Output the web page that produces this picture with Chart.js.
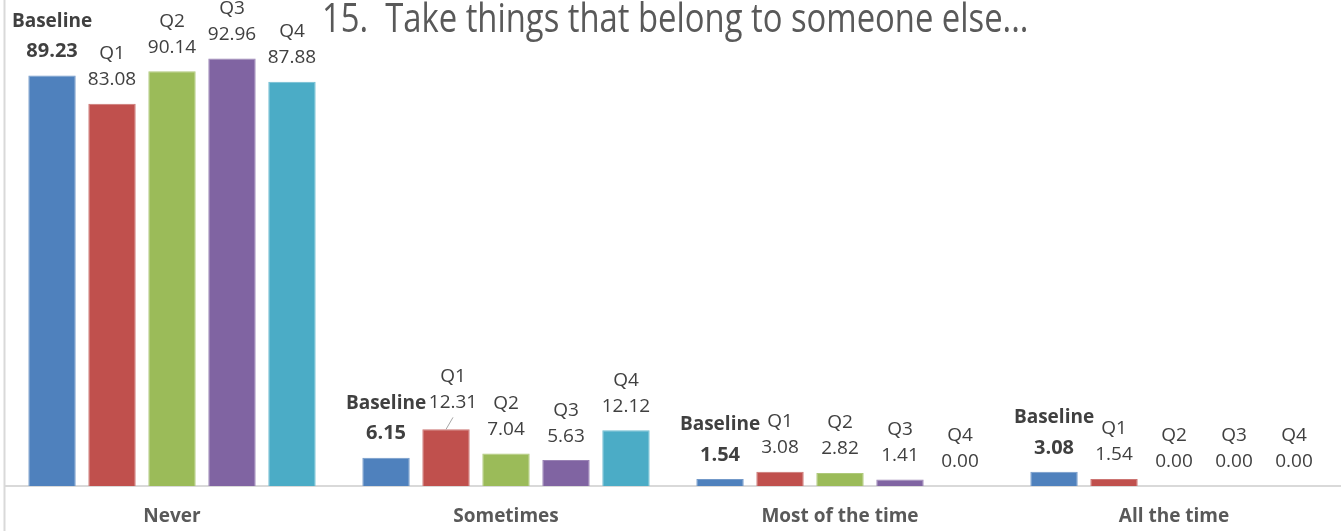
<!DOCTYPE html>
<html>
<head>
<meta charset="utf-8">
<script src="https://cdn.jsdelivr.net/npm/chart.js@4/dist/chart.umd.min.js"></script>
<style>
  html, body { margin: 0; padding: 0; background: #ffffff; }
  #wrap { width: 1341px; height: 531px; position: relative; }
</style>
</head>
<body>
<div id="wrap"><canvas id="chart" width="1341" height="531"></canvas></div>
<script>
// Survey answers for item 15, percentage of respondents per answer and wave
const chartTitle = '15.  Take things that belong to someone else...';
const categories = ['Never', 'Sometimes', 'Most of the time', 'All the time'];
const seriesNames = ['Baseline', 'Q1', 'Q2', 'Q3', 'Q4'];
const baselineValues = [89.23, 6.15, 1.54, 3.08];
const q1Values = [83.08, 12.31, 3.08, 1.54];
const q2Values = [90.14, 7.04, 2.82, 0.00];
const q3Values = [92.96, 5.63, 1.41, 0.00];
const q4Values = [87.88, 12.12, 0.00, 0.00];

const seriesValues = [baselineValues, q1Values, q2Values, q3Values, q4Values];
const seriesColors = ['#4F81BD', '#C0504D', '#9BBB59', '#8064A2', '#4BACC6'];
const edgeColors = ['#7399C9', '#CC7573', '#AFC97A', '#9A83B5', '#6FBDD2'];

const FONT = "'Open Sans', 'Noto Sans', sans-serif";
const LINE = '#D9D9D9';

// labels nudged off their bar, joined back to it by a short leader line
const callouts = [{ series: 1, category: 1, dx: 7, dy: -3 }];

const datasets = seriesNames.map((name, i) => ({
  label: name,
  data: seriesValues[i],
  backgroundColor: seriesColors[i],
  borderColor: edgeColors[i],
  borderWidth: 1,
  borderSkipped: 'bottom',
  categoryPercentage: 0.898,
  barPercentage: 0.79
}));

// left frame edge of the chart
const framePlugin = {
  id: 'frame',
  afterDraw(chart) {
    const ctx = chart.ctx;
    ctx.save();
    ctx.strokeStyle = LINE;
    ctx.lineWidth = 2;
    ctx.beginPath();
    ctx.moveTo(chart.chartArea.left - 0.5, 0);
    ctx.lineTo(chart.chartArea.left - 0.5, chart.height);
    ctx.stroke();
    ctx.restore();
  }
};

// two-line labels above each bar: series name, then value
const valueLabels = {
  id: 'valueLabels',
  afterDatasetsDraw(chart) {
    const ctx = chart.ctx;
    ctx.save();
    ctx.textAlign = 'center';
    ctx.textBaseline = 'middle';
    chart.data.datasets.forEach((ds, i) => {
      const meta = chart.getDatasetMeta(i);
      meta.data.forEach((bar, j) => {
        const c = callouts.find(o => o.series === i && o.category === j);
        const dx = c ? c.dx : 0;
        const dy = c ? c.dy : 0;
        const x = bar.x + dx;
        const valueY = bar.y - 24 + dy;
        const isBase = i === 0;
        const nameY = valueY - (isBase ? 30 : 26);
        ctx.fillStyle = '#404040';
        ctx.font = (isBase ? 'bold 20px ' : '19px ') + FONT;
        ctx.fillText(Number(ds.data[j]).toFixed(2), x, valueY);
        ctx.font = (isBase ? 'bold 19px ' : '19px ') + FONT;
        ctx.fillText(ds.label, x, nameY);
        if (c) {
          ctx.strokeStyle = '#A6A6A6';
          ctx.lineWidth = 1;
          ctx.beginPath();
          ctx.moveTo(bar.x, bar.y);
          ctx.lineTo(bar.x + dx, bar.y - 12);
          ctx.stroke();
        }
      });
    });
    ctx.restore();
  }
};

// chart heading, set in a condensed face
const headingPlugin = {
  id: 'heading',
  afterDraw(chart) {
    const ctx = chart.ctx;
    ctx.save();
    ctx.fillStyle = '#595959';
    ctx.font = '40px ' + FONT;
    ctx.textAlign = 'left';
    ctx.textBaseline = 'alphabetic';
    ctx.translate(322, 32);
    ctx.scale(0.82, 1);
    ctx.fillText(chartTitle, 0, 0);
    ctx.restore();
  }
};

new Chart(document.getElementById('chart'), {
  type: 'bar',
  data: { labels: categories, datasets },
  options: {
    responsive: false,
    animation: false,
    devicePixelRatio: 1,
    layout: { padding: { top: 26, left: 5, right: 0, bottom: 0 } },
    plugins: {
      legend: { display: false },
      title: { display: false },
      tooltip: { enabled: false }
    },
    scales: {
      x: {
        grid: { display: false, drawTicks: false },
        border: { display: true, color: LINE, width: 2 },
        ticks: {
          color: '#595959',
          font: { family: FONT, size: 19, weight: 'bold' },
          padding: 19,
          maxRotation: 0
        },
        afterFit(scale) { scale.height = 45; }
      },
      y: {
        display: false,
        min: 0,
        max: 100
      }
    }
  },
  plugins: [framePlugin, valueLabels, headingPlugin]
});
</script>
</body>
</html>
